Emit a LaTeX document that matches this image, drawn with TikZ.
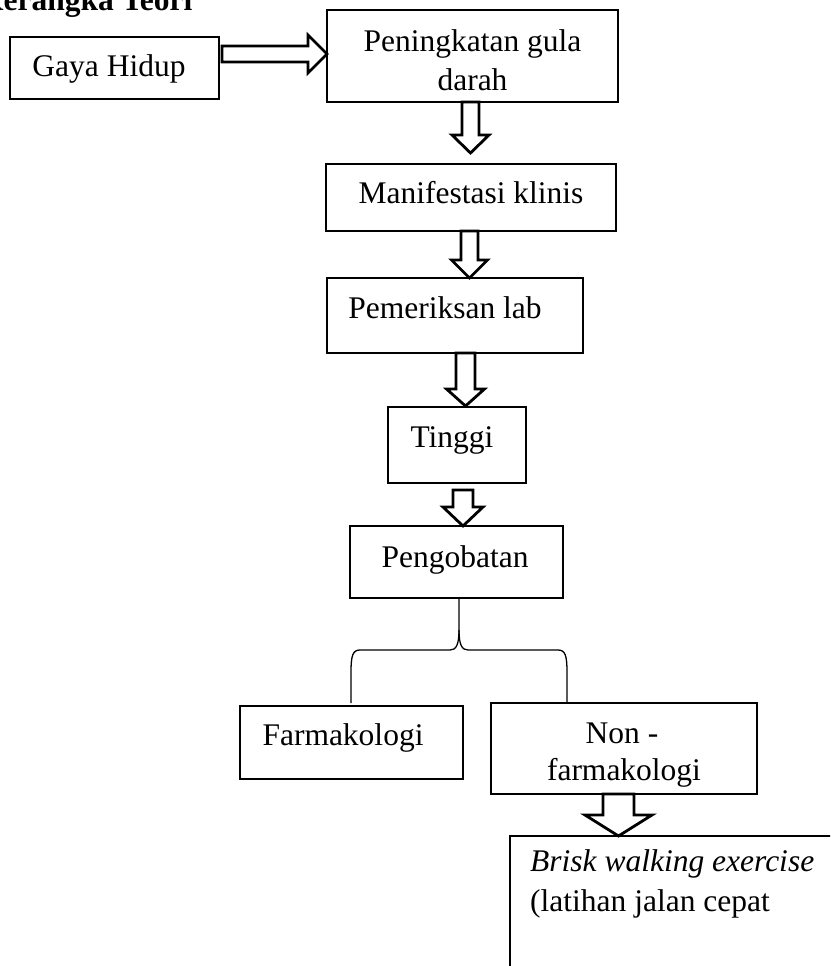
\documentclass[tikz,border=0pt]{standalone}
\usepackage{fontspec}
\setmainfont{Liberation Serif}
\usetikzlibrary{calc}
\newcommand\blockright[5]{\draw[blk] let \p1=#1, \p2=#2 in (\x1,\y1+#3pt) -- (\x2-#5pt,\y1+#3pt) -- (\x2-#5pt,\y1+#4pt) -- (\x2,\y1) -- (\x2-#5pt,\y1-#4pt) -- (\x2-#5pt,\y1-#3pt) -- (\x1,\y1-#3pt) -- cycle;}
\newcommand\blockdown[5]{\draw[blk] let \p1=#1, \p2=#2 in (\x1-#3pt,\y1) -- (\x1-#3pt,\y2+#5pt) -- (\x1-#4pt,\y2+#5pt) -- (\x1,\y2) -- (\x1+#4pt,\y2+#5pt) -- (\x1+#3pt,\y2+#5pt) -- (\x1+#3pt,\y1) -- cycle;}
\begin{document}
\begin{tikzpicture}[x=1pt,y=-1pt,
  box/.style={draw, line width=2.8pt, inner sep=0pt, outer sep=0pt, anchor=north west},
  blk/.style={draw, line width=2.8pt, line join=miter, fill=white},
  brace/.style={draw, line width=1.3pt},
  txt/.style={inner sep=0pt, anchor=base, font=\fontsize{31.5}{38}\selectfont},
  txtl/.style={txt, anchor=base west}]
\useasboundingbox (0,0) rectangle (830,966);
\clip (0,0) rectangle (830,966);
\fill[white] (0,0) rectangle (830,966);

\node[txtl, font=\fontsize{31.5}{38}\selectfont\bfseries] (title) at (-21,11) {Kerangka Teori};

% boxes
\node[box, minimum width=209pt, minimum height=62pt] (gaya) at (10,37) {};
\node[box, minimum width=291pt, minimum height=92pt] (pening) at (327,10) {};
\node[box, minimum width=290pt, minimum height=67pt] (manif) at (326,164) {};
\node[box, minimum width=256pt, minimum height=75pt] (pemer) at (327,278) {};
\node[box, minimum width=138pt, minimum height=76pt] (tinggi) at (388,407) {};
\node[box, minimum width=213pt, minimum height=72pt] (pengob) at (350,526) {};
\node[box, minimum width=223pt, minimum height=73pt] (farm) at (240,706) {};
\node[box, minimum width=266pt, minimum height=91pt] (nonfarm) at (491,703) {};
\node[box, minimum width=340pt, minimum height=200pt] (brisk) at (510,836) {};

% texts
\node[txt] (tgaya) at (109,77) {Gaya Hidup};
\node[txt] (tpen1) at (472.5,52) {Peningkatan gula};
\node[txt] (tpen2) at (472.5,90) {darah};
\node[txt] (tman) at (471,203) {Manifestasi klinis};
\node[txt] (tpem) at (445,318) {Pemeriksan lab};
\node[txt] (ttin) at (452,447) {Tinggi};
\node[txt] (tpeng) at (455,567) {Pengobatan};
\node[txt] (tfarm) at (343,745) {Farmakologi};
\node[txt] (tnon1) at (622,743) {Non -};
\node[txt] (tnon2) at (624,780) {farmakologi};
\node[txtl, font=\fontsize{31.5}{38}\selectfont\itshape] (tbr1) at (530,871) {Brisk walking exercise};
\node[txtl] (tbr2) at (530,911) {(latihan jalan cepat};

% block arrows
\blockright{($(gaya.north east)+(3,17)$)}{(pening.west)}{8}{19}{19}
\blockdown{($(pening.south west)+(143.5,0)$)}{($(manif.north west)+(144.5,-11)$)}{8.5}{18.5}{18}
\blockdown{($(manif.south west)+(143.5,0)$)}{(pemer.north)}{8.5}{18}{18}
\blockdown{($(pemer.south west)+(138.5,0)$)}{($(tinggi.north)+(0,-1)$)}{9.5}{19}{17}
\blockdown{($(tinggi.south west)+(75,7)$)}{(pengob.north)}{10}{20}{19}
\blockdown{($(nonfarm.south west)+(127.5,0)$)}{(brisk.north)}{15.5}{33.5}{21}

% brace
\coordinate (lb) at ($(farm.north west)+(111,-3)$);
\coordinate (rb) at ($(nonfarm.north west)+(76,-1)$);
\coordinate (st) at ($(pengob.south west)+(109,0)$);
\coordinate (mid) at ($(st)+(0,32)$);
\draw[brace] (lb) -- ($(lb)+(0,-31)$) .. controls +(0,-17) and +(-7,0) .. ($(lb)+(9,-53)$) -- ($(mid)+(-9,20)$) .. controls +(6,0) and +(0,15) .. (mid) -- (st);
\draw[brace] (mid) .. controls +(0,15) and +(-6,0) .. ($(mid)+(9,20)$) -- ($(rb)+(-9,-52)$) .. controls +(7,0) and +(0,-17) .. ($(rb)+(0,-30)$) -- (rb);
\end{tikzpicture}
\end{document}
